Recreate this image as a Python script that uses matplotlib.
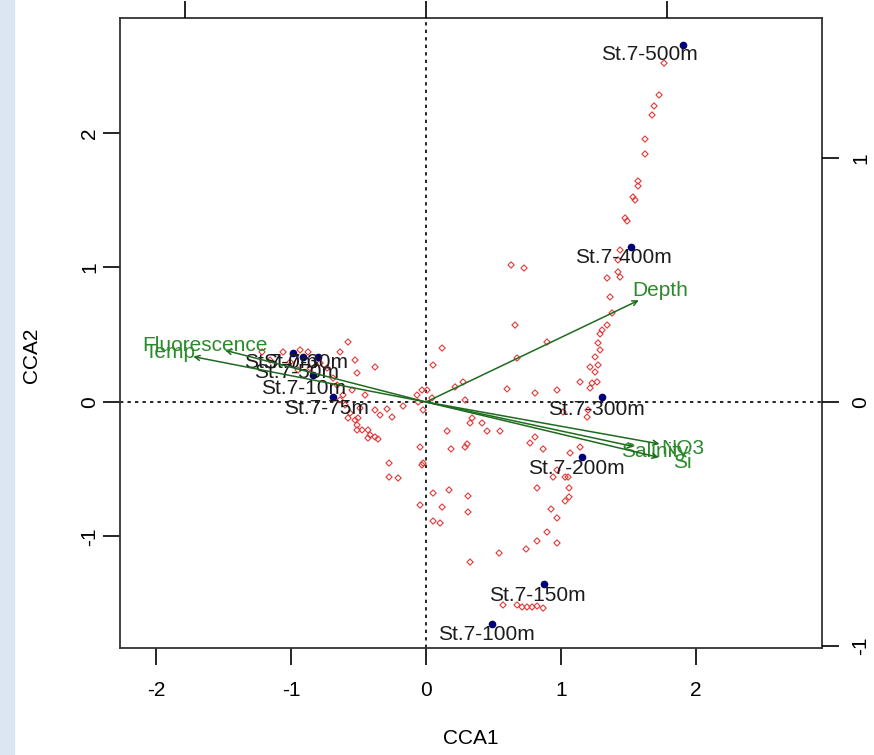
import matplotlib
matplotlib.use("Agg")
import matplotlib.pyplot as plt
from matplotlib.patches import Rectangle

plt.rcParams['font.family'] = ['Liberation Sans', 'DejaVu Sans']
plt.rcParams['axes.unicode_minus'] = False

# species scores (red points), CCA1 / CCA2
sp_x = [1.763, 1.726, 1.689, 1.674, 1.622, 1.622, 1.570, 1.570, 1.533, 1.548,
        1.474, 1.489, 1.437, 1.422, 1.422, 1.437, 1.341, 1.363, 1.378, 1.341,
        1.304, 1.289, 1.274, 1.289, 1.252, 1.274, 1.215, 1.252, 1.267, 1.230,
        1.215, 1.141, 0.970, 0.807, 0.600, 0.659, 0.896, 0.674, 0.630, 0.726,
        0.274, 0.215, 0.119, 0.052, 0.007, 0.289, 1.200, 1.193, 1.015, 0.341,
        0.326, 0.415, 0.156, 0.452, 0.548, 0.807, 0.770, 0.304, 0.289, 0.185,
        0.867, 1.141, 1.067, -0.044, -0.022, 0.970, 0.941, 1.030, 1.052, 0.822,
        1.059, 0.052, 0.170, 0.311, 1.059, 1.030, 0.119, 0.311, -0.044, 0.052,
        0.104, 0.926, 0.970, 0.896, 0.822, 0.970, 0.741, 0.541, 0.326, 0.570,
        0.674, 0.711, 0.748, 0.785, 0.822, 0.867, -0.022,
        -0.578, -1.059, -0.378, -0.511, -0.452, -0.067, -0.030, -0.170, -0.378, -0.341,
        -0.289, -0.252, -0.578, -0.504, -0.511, -0.511, -0.474, -0.430, -0.415, -0.378,
        -0.356, -0.430, -0.274, -0.274, -0.207, -0.030, -0.933, -0.874, -0.785, -0.733,
        -0.689, -0.659, -0.637, -0.600, -0.859, -0.948, -1.007, -1.156, -1.215, -0.637,
        -0.526, -0.548, -0.615, -0.489, -0.526, -0.563, 0.044, -0.059]
sp_y = [2.520, 2.283, 2.201, 2.134, 1.955, 1.844, 1.643, 1.606, 1.524, 1.502,
        1.368, 1.346, 1.130, 1.056, 0.967, 0.929, 0.922, 0.781, 0.662, 0.572,
        0.535, 0.506, 0.439, 0.387, 0.335, 0.275, 0.260, 0.223, 0.149, 0.141,
        0.104, 0.149, 0.089, 0.067, 0.097, 0.572, 0.446, 0.327, 1.019, 0.996,
        0.149, 0.112, 0.401, 0.275, 0.089, 0.015, -0.059, -0.112, -0.074, -0.119,
        -0.156, -0.156, -0.216, -0.216, -0.216, -0.260, -0.305, -0.312, -0.335, -0.349,
        -0.349, -0.335, -0.379, -0.335, -0.454, -0.506, -0.558, -0.558, -0.558, -0.639,
        -0.639, -0.677, -0.654, -0.699, -0.706, -0.736, -0.781, -0.818, -0.766, -0.885,
        -0.900, -0.796, -0.862, -0.967, -1.033, -1.048, -1.093, -1.123, -1.190, -1.509,
        -1.509, -1.524, -1.524, -1.524, -1.517, -1.532, -0.059,
        0.446, 0.372, 0.260, 0.216, 0.052, 0.052, 0.089, -0.030, -0.059, -0.097,
        -0.052, -0.112, -0.119, -0.119, -0.171, -0.208, -0.208, -0.208, -0.245, -0.260,
        -0.275, -0.268, -0.454, -0.558, -0.565, -0.468, 0.387, 0.372, 0.290, 0.253,
        0.178, 0.126, 0.015, -0.022, 0.253, 0.238, 0.297, 0.312, 0.372, 0.372,
        0.312, 0.089, 0.052, -0.045, -0.134, -0.082, 0.030, 0.000]

# site scores (blue dots) and where their labels sit
site_names = ['St.7-500m', 'St.7-400m', 'St.7-300m', 'St.7-200m', 'St.7-150m',
              'St.7-100m', 'St.7-75m', 'St.7-50m', 'St.7-30m', 'St.7-10m', 'St.7-0m']
site_x = [1.904, 1.519, 1.304, 1.156, 0.874, 0.489, -0.689, -0.911, -0.800, -0.837, -0.985]
site_y = [2.654, 1.152, 0.037, -0.409, -1.353, -1.651, 0.037, 0.335, 0.335, 0.201, 0.364]
lab_x = [1.652, 1.459, 1.259, 1.111, 0.822, 0.444, -0.741, -0.956, -0.889, -0.904, -1.074]
lab_y = [2.580, 1.078, -0.059, -0.491, -1.435, -1.725, -0.045, 0.223, 0.297, 0.104, 0.297]

# biplot arrows (environmental variables), top/right axis scale
env_names = ['Temp', 'Fluorescence', 'Depth', 'Salinity', 'NO3', 'Si']
env_x = [-0.966, -0.834, 0.883, 0.864, 0.969, 0.966]
env_y = [0.186, 0.212, 0.417, -0.183, -0.172, -0.227]

W, H = 874, 755
fig = plt.figure(figsize=(W / 100, H / 100), dpi=100)
fig.patches.append(Rectangle((0, 0), 14 / W, 1, transform=fig.transFigure,
                             color='#dce6f2', zorder=0))

rect = [120 / W, 107 / H, 702 / W, 630 / H]
ax = fig.add_axes(rect)
ax.set_xlim(-2.267, 2.933)
ax.set_ylim(-1.829, 2.855)

ax.axhline(0, color='black', lw=1.2, ls=(0, (2, 2.5)), zorder=1)
ax.axvline(0, color='black', lw=1.2, ls=(0, (2, 2.5)), zorder=1)

ax.scatter(sp_x, sp_y, marker='D', s=10, facecolors='none',
           edgecolors='#e23a3a', linewidths=0.8, zorder=2)
ax.plot(site_x, site_y, 'o', color='#00007a', ms=4.5, zorder=3)
for name, lx, ly in zip(site_names, lab_x, lab_y):
    ax.text(lx, ly, name, ha='center', va='center', fontsize=15,
            color='#1c1c1c', zorder=4)

ax.set_xticks([-2, -1, 0, 1, 2])
ax.set_xticklabels(['-2', '-1', '0', '1', '2'])
ax.set_yticks([-1, 0, 1, 2])
ax.set_yticklabels(['-1', '0', '1', '2'], rotation=90, va='center')
ax.tick_params(axis='x', direction='out', length=12, width=1.2, labelsize=15, pad=12)
ax.tick_params(axis='y', direction='out', length=12, width=1.2, labelsize=15, pad=3)
for s in ax.spines.values():
    s.set_linewidth(1.3)
    s.set_color('#333333')

ax2 = fig.add_axes(rect, frameon=False, label='biplot')
ax2.set_xlim(-1.2697, 1.6432)
ax2.set_ylim(-1.0082, 1.5738)
ax2.patch.set_visible(False)
ax2.xaxis.tick_top()
ax2.yaxis.tick_right()
ax2.set_xticks([-1, 0, 1])
ax2.set_xticklabels([])
ax2.set_yticks([-1, 0, 1])
ax2.set_yticklabels(['-1', '0', '1'], rotation=90, va='center')
ax2.tick_params(direction='out', length=12, width=1.2, labelsize=15)
ax2.tick_params(axis='y', pad=9)

for name, ex, ey in zip(env_names, env_x, env_y):
    ax2.annotate('', xy=(ex, ey), xytext=(0, 0),
                 arrowprops=dict(arrowstyle='->', color='#1e6b1e', lw=1.1,
                                 shrinkA=0, shrinkB=0, mutation_scale=9))
    ax2.text(1.1 * ex, 1.1 * ey, name, ha='center', va='center',
             fontsize=15, color='#2b8a2b')

fig.text(471 / W, 1 - 738 / H, 'CCA1', ha='center', va='center', fontsize=15)
fig.text(32 / W, 1 - 355 / H, 'CCA2', ha='center', va='center', fontsize=15,
         rotation=90)

fig.savefig('out.png', dpi=100)
